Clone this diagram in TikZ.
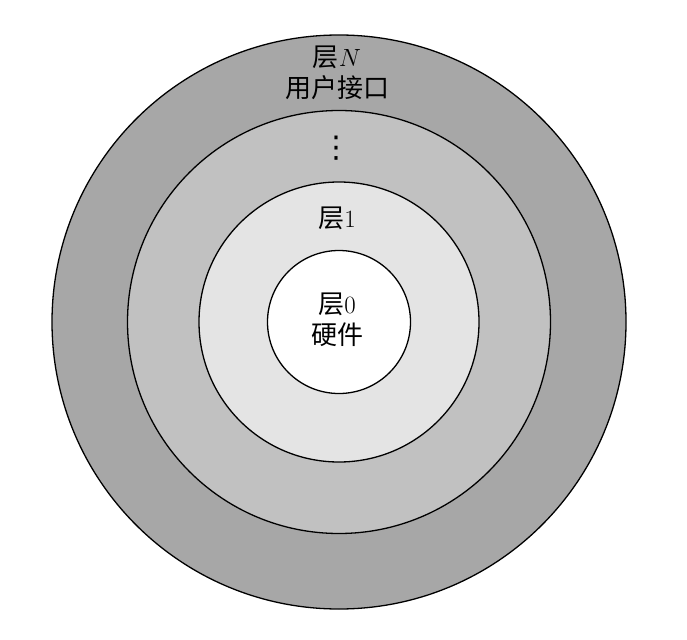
\documentclass[tikz,border=0pt]{standalone}
\usepackage{fontspec}
\newfontfamily\cjk{Noto Sans CJK SC}
\newfontfamily\symb{DejaVu Sans}
\usetikzlibrary{positioning}

\definecolor{ringNgray}{HTML}{A7A7A7}
\definecolor{ringMgray}{HTML}{C1C1C1}
\definecolor{ringAgray}{HTML}{E4E4E4}

\begin{document}
\begin{tikzpicture}[
    x=1pt, y=-1pt,
    ring/.style={circle, draw, line width=1.3pt, inner sep=0pt, outer sep=0pt},
    layertext/.style={align=center, font=\fontsize{26}{31}\selectfont\cjk, inner sep=0pt}
]
\useasboundingbox (0,0) rectangle (687,639);

% Layer N
\node[ring, fill=ringNgray, minimum size=574pt] (ringN) at (339,322) {};

% Middle layers
\node[ring, fill=ringMgray, minimum size=423pt] (ringM) at (339,322) {};

% Layer 1
\node[ring, fill=ringAgray, minimum size=280pt] (ring1) at (339,322) {};

% Layer 0 (hardware)
\node[ring, fill=white, minimum size=143pt] (ring0) at (339,322) {};

% Labels
\node[layertext] (labelN) at (337,73) {层$N$\\用户接口};
\node[layertext, font=\fontsize{30}{30}\selectfont\symb] (dots) at (336,148) {⋮};
\node[layertext] (label1) at (337,218) {层$1$};
\node[layertext] (label0) at (337,320) {层$0$\\硬件};

\end{tikzpicture}
\end{document}
